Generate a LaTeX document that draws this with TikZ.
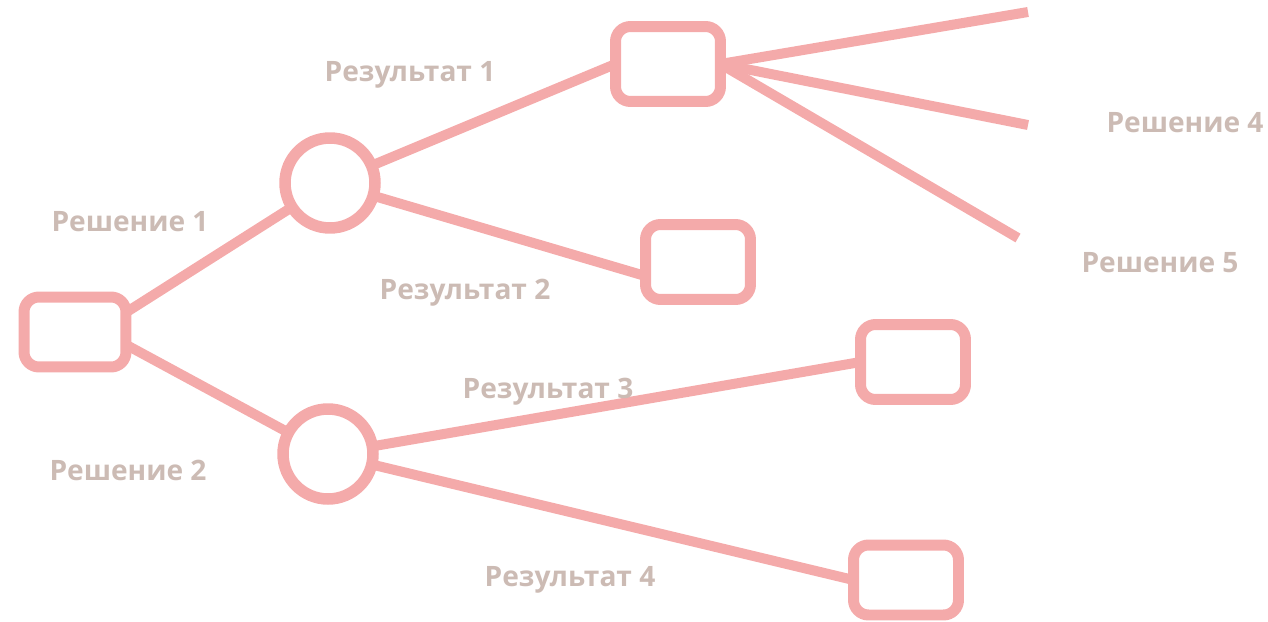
\documentclass[tikz,border=0pt]{standalone}
\usepackage{fontspec}
\setmainfont{Open Sans}
\usepackage{tikz}
\usetikzlibrary{calc}
\definecolor{treeline}{RGB}{244,170,170}
\definecolor{treetext}{RGB}{204,187,180}
\tikzset{
  decision/.style = {draw=treeline, line width=0.22cm, rounded corners=0.3cm,
    minimum width=2.1cm, minimum height=1.5cm, inner sep=0pt, outer sep=0pt},
  chance/.style = {draw=treeline, line width=0.23cm, circle,
    minimum size=1.8cm, inner sep=0pt, outer sep=0pt},
  branch/.style = {draw=treeline, line width=0.2cm},
  caption/.style = {text=treetext, font=\bfseries\fontsize{16}{18}\selectfont}
}

\begin{document}
\begin{tikzpicture}[x=0.02cm, y=-0.02cm]
\useasboundingbox (0,0) rectangle (1268,622);
% decision and chance nodes
\node[decision, minimum width=2.04cm, minimum height=1.4cm] (root) at (75,332) {};
\node[chance] (up) at (330,183) {};
\node[chance] (down) at (328,454) {};
\node[decision] (top) at (668,64) {};
\node[decision] (mid) at (698,262) {};
\node[decision] (right) at (913,362) {};
\node[decision, minimum height=1.4cm] (low) at (906,580) {};
% free ends of the last branches
\coordinate (e1) at (1028,12);
\coordinate (e2) at (1028,125);
\coordinate (e3) at (1018,238);
% branches
\draw[branch] (root.21) -- (up);
\draw[branch] (root.-14) -- (down);
\draw[branch] (up) -- (top.west);
\draw[branch] (up) -- (mid.195);
\draw[branch] (down) -- (right.west);
\draw[branch] (down) -- (low.west);
\draw[branch] (top.east) -- (e1);
\draw[branch] (top.east) -- (e2);
\draw[branch] (top.east) -- (e3);
% labels
\node[caption] (s1) at (130,222) {Решение 1};
\node[caption] (s2) at (128,470) {Решение 2};
\node[caption] (r1) at (410,75) {Результат 1};
\node[caption] (r2) at (465,293) {Результат 2};
\node[caption] (r3) at (548,392) {Результат 3};
\node[caption] (r4) at (570,580) {Результат 4};
\node[caption] (s4) at (1185,123) {Решение 4};
\node[caption] (s5) at (1160,263) {Решение 5};
\end{tikzpicture}
\end{document}
